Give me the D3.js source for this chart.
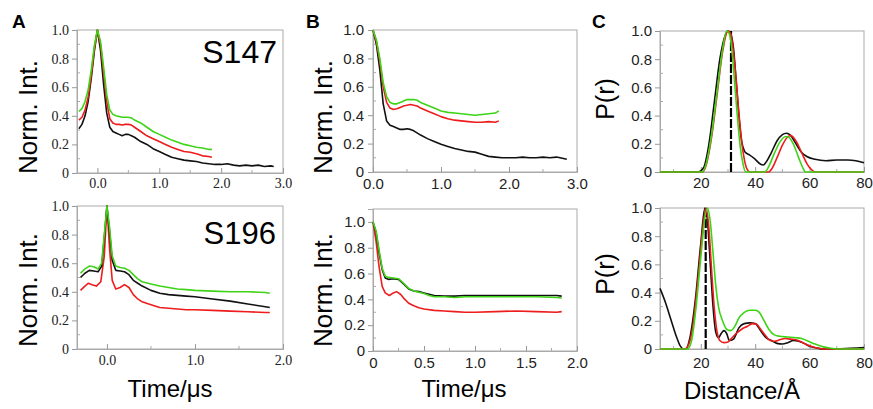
<!DOCTYPE html>
<html>
<head>
<meta charset="utf-8">
<script src="https://cdn.jsdelivr.net/npm/d3@7"></script>
<style>
  body { margin: 0; background: #fff; }
  svg { display: block; }
</style>
</head>
<body>
<svg id="chart" width="873" height="409"></svg>
<script>
/* A, top: S147 time traces */
const aTopBlack = [[-0.3,0.31],[-0.25,0.34],[-0.2,0.40],[-0.15,0.50],[-0.1,0.66],[-0.05,0.85],[0,1.0],[0.05,0.86],[0.1,0.62],[0.15,0.42],[0.2,0.32],[0.25,0.29],[0.3,0.28],[0.35,0.27],[0.4,0.26],[0.45,0.27],[0.5,0.27],[0.55,0.26],[0.6,0.25],[0.7,0.22],[0.8,0.2],[0.9,0.17],[1.0,0.15],[1.1,0.13],[1.2,0.11],[1.3,0.1],[1.4,0.09],[1.5,0.085],[1.6,0.08],[1.7,0.07],[1.8,0.065],[1.9,0.06],[2.0,0.06],[2.1,0.065],[2.2,0.055],[2.3,0.05],[2.4,0.055],[2.5,0.05],[2.6,0.055],[2.7,0.045],[2.8,0.05],[2.85,0.045]];
const aTopRed = [[-0.3,0.37],[-0.25,0.39],[-0.2,0.44],[-0.15,0.53],[-0.1,0.68],[-0.05,0.87],[0,1.0],[0.05,0.9],[0.1,0.7],[0.15,0.5],[0.2,0.38],[0.25,0.35],[0.3,0.34],[0.35,0.34],[0.4,0.335],[0.45,0.34],[0.5,0.34],[0.55,0.335],[0.6,0.32],[0.7,0.29],[0.8,0.26],[0.9,0.24],[1.0,0.22],[1.1,0.2],[1.2,0.18],[1.3,0.165],[1.4,0.15],[1.5,0.145],[1.6,0.135],[1.7,0.12],[1.8,0.115],[1.85,0.11]];
const aTopGreen = [[-0.3,0.43],[-0.25,0.45],[-0.2,0.5],[-0.15,0.58],[-0.1,0.72],[-0.05,0.89],[0,1.0],[0.05,0.92],[0.1,0.74],[0.15,0.55],[0.2,0.44],[0.25,0.41],[0.3,0.4],[0.35,0.395],[0.4,0.39],[0.45,0.39],[0.5,0.39],[0.55,0.385],[0.6,0.37],[0.7,0.35],[0.8,0.32],[0.9,0.29],[1.0,0.27],[1.1,0.25],[1.2,0.23],[1.3,0.215],[1.4,0.2],[1.5,0.19],[1.6,0.18],[1.7,0.175],[1.8,0.165],[1.85,0.165]];

/* A, bottom: S196 time traces */
const aBotGreen = [[-0.3,0.53],[-0.25,0.56],[-0.2,0.58],[-0.15,0.575],[-0.1,0.56],[-0.06,0.6],[-0.03,0.8],[0,1.0],[0.03,0.85],[0.06,0.65],[0.1,0.58],[0.15,0.57],[0.2,0.565],[0.25,0.55],[0.3,0.52],[0.35,0.49],[0.4,0.47],[0.5,0.455],[0.6,0.44],[0.7,0.43],[0.8,0.42],[0.9,0.415],[1.0,0.41],[1.2,0.405],[1.4,0.4],[1.6,0.4],[1.8,0.395],[1.85,0.39]];
const aBotBlack = [[-0.3,0.5],[-0.25,0.53],[-0.2,0.55],[-0.15,0.545],[-0.1,0.54],[-0.06,0.58],[-0.03,0.78],[0,1.0],[0.03,0.82],[0.06,0.62],[0.1,0.55],[0.15,0.545],[0.2,0.54],[0.25,0.52],[0.3,0.48],[0.35,0.46],[0.4,0.44],[0.5,0.41],[0.6,0.39],[0.7,0.38],[0.8,0.375],[0.9,0.37],[1.0,0.365],[1.2,0.35],[1.4,0.335],[1.6,0.315],[1.8,0.295],[1.85,0.29]];
const aBotRed = [[-0.3,0.41],[-0.25,0.44],[-0.21,0.46],[-0.17,0.45],[-0.12,0.44],[-0.07,0.47],[-0.03,0.65],[0,1.0],[0.03,0.7],[0.06,0.48],[0.1,0.42],[0.15,0.43],[0.2,0.45],[0.25,0.43],[0.3,0.38],[0.35,0.35],[0.4,0.33],[0.5,0.31],[0.6,0.29],[0.7,0.285],[0.8,0.28],[0.9,0.275],[1.0,0.275],[1.2,0.27],[1.4,0.265],[1.6,0.26],[1.8,0.255],[1.85,0.255]];

/* B, top */
const bTopGreen = [[0,1.0],[0.05,0.93],[0.1,0.8],[0.15,0.63],[0.2,0.53],[0.25,0.49],[0.3,0.48],[0.35,0.48],[0.4,0.49],[0.45,0.5],[0.5,0.51],[0.55,0.51],[0.6,0.51],[0.65,0.505],[0.7,0.49],[0.8,0.47],[0.9,0.45],[1.0,0.43],[1.1,0.42],[1.2,0.415],[1.3,0.41],[1.4,0.405],[1.5,0.4],[1.6,0.405],[1.7,0.41],[1.8,0.415],[1.85,0.43]];
const bTopRed = [[0,1.0],[0.05,0.92],[0.1,0.78],[0.15,0.6],[0.2,0.49],[0.25,0.45],[0.3,0.44],[0.35,0.445],[0.4,0.455],[0.45,0.465],[0.5,0.47],[0.55,0.475],[0.6,0.47],[0.65,0.465],[0.7,0.45],[0.8,0.43],[0.9,0.41],[1.0,0.39],[1.1,0.375],[1.2,0.365],[1.3,0.36],[1.4,0.355],[1.5,0.35],[1.6,0.35],[1.7,0.355],[1.8,0.35],[1.85,0.36]];
const bTopBlack = [[0,1.0],[0.05,0.9],[0.1,0.72],[0.15,0.48],[0.2,0.36],[0.25,0.33],[0.3,0.32],[0.35,0.31],[0.4,0.3],[0.45,0.3],[0.5,0.305],[0.55,0.3],[0.6,0.29],[0.7,0.26],[0.8,0.235],[0.9,0.215],[1.0,0.195],[1.1,0.18],[1.2,0.165],[1.3,0.155],[1.4,0.145],[1.5,0.14],[1.6,0.125],[1.7,0.11],[1.8,0.105],[1.9,0.1],[2.0,0.1],[2.1,0.1],[2.2,0.105],[2.3,0.1],[2.4,0.1],[2.5,0.105],[2.6,0.1],[2.7,0.105],[2.8,0.095],[2.85,0.09]];

/* B, bottom */
const bBotBlack = [[0,1.0],[0.03,0.92],[0.06,0.76],[0.09,0.63],[0.12,0.565],[0.15,0.555],[0.2,0.56],[0.25,0.555],[0.3,0.52],[0.35,0.48],[0.4,0.465],[0.45,0.46],[0.5,0.45],[0.55,0.44],[0.6,0.43],[0.7,0.425],[0.8,0.425],[0.9,0.43],[1.0,0.43],[1.2,0.43],[1.4,0.43],[1.6,0.43],[1.8,0.43],[1.85,0.425]];
const bBotGreen = [[0,1.0],[0.03,0.93],[0.06,0.78],[0.09,0.64],[0.12,0.58],[0.15,0.57],[0.2,0.565],[0.25,0.56],[0.3,0.525],[0.35,0.485],[0.4,0.465],[0.45,0.455],[0.5,0.445],[0.55,0.43],[0.6,0.42],[0.7,0.42],[0.8,0.415],[0.9,0.42],[1.0,0.42],[1.2,0.42],[1.4,0.42],[1.6,0.42],[1.8,0.415],[1.85,0.41]];
const bBotRed = [[0,1.0],[0.03,0.85],[0.06,0.65],[0.09,0.5],[0.12,0.45],[0.16,0.43],[0.2,0.45],[0.23,0.46],[0.27,0.44],[0.3,0.41],[0.35,0.37],[0.4,0.35],[0.45,0.335],[0.5,0.325],[0.6,0.315],[0.7,0.31],[0.8,0.305],[0.9,0.3],[1.0,0.3],[1.2,0.305],[1.4,0.31],[1.6,0.305],[1.8,0.3],[1.85,0.305]];

/* C, top: distance distributions */
const cTopBlack = [[5,0],[19,0],[21,0.03],[23,0.2],[25,0.5],[27,0.8],[29,0.97],[30,1.0],[31,0.98],[32,0.88],[33,0.65],[34,0.4],[35,0.22],[36,0.15],[37,0.13],[38,0.12],[40,0.09],[42,0.055],[43,0.05],[44,0.07],[46,0.14],[48,0.22],[50,0.265],[51.5,0.275],[53,0.26],[55,0.2],[57,0.14],[59,0.11],[62,0.09],[66,0.08],[70,0.085],[74,0.085],[77,0.08],[80,0.065]];
const cTopRed = [[5,0],[20.5,0],[22,0.05],[24,0.25],[26,0.55],[28,0.85],[30,1.0],[31,0.98],[32,0.85],[33,0.65],[34,0.42],[35,0.22],[36,0.09],[37,0.02],[38,0],[45,0],[46,0.02],[48,0.1],[50,0.19],[52,0.25],[53,0.26],[55,0.22],[57,0.14],[59,0.06],[60.5,0.02],[62,0],[80,0]];
const cTopGreen = [[5,0],[20.5,0],[22,0.06],[24,0.27],[26,0.57],[28,0.87],[29.5,1.0],[30.5,0.98],[31.5,0.85],[32.5,0.62],[33.5,0.38],[34.5,0.18],[35.5,0.06],[36.5,0],[43.5,0],[45,0.04],[47,0.13],[49,0.21],[51,0.25],[52,0.25],[54,0.2],[56,0.1],[57.5,0.03],[58.5,0],[80,0]];

/* C, bottom */
const cBotBlack = [[5,0.43],[7,0.33],[9,0.21],[11,0.09],[12.5,0.02],[13.5,0],[14.5,0],[16,0.08],[18,0.35],[20,0.75],[21.5,1.0],[22.5,0.9],[23.5,0.6],[24.5,0.3],[25.5,0.12],[26.5,0.08],[27.5,0.11],[28.5,0.13],[29.5,0.11],[30.5,0.06],[32,0.07],[34,0.15],[36,0.18],[38,0.185],[40,0.18],[42,0.13],[44,0.08],[46,0.06],[48,0.04],[50,0.035],[52,0.045],[54,0.06],[56,0.055],[58,0.04],[60,0.02],[63,0.005],[65,0],[70,0],[75,0.005],[80,0.01]];
const cBotRed = [[5,0],[14,0],[15.5,0.03],[17,0.15],[19,0.5],[21,0.9],[22,1.0],[23,0.85],[24,0.55],[25,0.28],[26,0.12],[27,0.06],[28.5,0.045],[30,0.05],[31,0.07],[33,0.11],[35,0.14],[37,0.16],[39,0.18],[40.5,0.175],[42,0.14],[44,0.09],[45.5,0.06],[47,0.055],[49,0.065],[51,0.075],[53,0.07],[55,0.065],[57,0.05],[59,0.03],[62,0.01],[65,0],[80,0]];
const cBotGreen = [[5,0],[15,0],[16.5,0.05],[18,0.25],[20,0.65],[21.5,0.93],[22.5,1.0],[23.5,0.9],[24.5,0.68],[25.5,0.45],[26.5,0.3],[28,0.2],[29.5,0.14],[31,0.13],[32.5,0.16],[34,0.22],[36,0.26],[38,0.275],[40,0.275],[41.5,0.26],[43,0.21],[45,0.14],[47,0.1],[49,0.09],[52,0.085],[55,0.08],[57,0.075],[59,0.06],[62,0.035],[65,0.015],[68,0.005],[70,0],[80,0]];

/* dashed marker positions in C */
const cTopMark = 31.1;
const cBotMark = 21.8;

/* tick values */
const yTicks = [0, 0.2, 0.4, 0.6, 0.8, 1.0];
const yMinor = [0.1, 0.3, 0.5, 0.7, 0.9];
const timeTicks3 = [0, 1, 2, 3];
const timeMinor3 = [0.5, 1.5, 2.5];
const timeTicks2 = [0, 1, 2];
const timeMinor2 = [0.5, 1.5];
const bBotTicks = [0, 0.5, 1, 1.5, 2];
const bBotMinor = [0.25, 0.75, 1.25, 1.75];
const distTicks = [20, 40, 60, 80];
const distMinor = [10, 30, 50, 70];

const BLACK = '#111', RED = '#ee1c1c', GREEN = '#3fd317';
const SERIF = '"Liberation Serif", "Times New Roman", serif';
const SANS = '"Liberation Sans", Arial, Helvetica, sans-serif';

const svg = d3.select('#chart');

function drawPanel(p) {
  const x = d3.scaleLinear().domain(p.xDomain).range([p.left, p.right]);
  const y = d3.scaleLinear().domain(p.yDomain).range([p.bottom, p.top]);
  const g = svg.append('g');

  // frame
  g.append('rect')
    .attr('x', p.left).attr('y', p.top)
    .attr('width', p.right - p.left).attr('height', p.bottom - p.top)
    .attr('fill', 'none').attr('stroke', '#aaa').attr('stroke-width', 1);

  // y axis: major ticks outward, minor inward
  const yAxis = d3.axisLeft(y).tickValues(yTicks).tickSize(5).tickPadding(p.yPad || 3)
    .tickFormat(d => d === 0 ? '0' : d3.format('.1f')(d));
  const ya = g.append('g').attr('transform', `translate(${p.left},0)`).call(yAxis);
  ya.select('.domain').attr('stroke', '#aaa');
  ya.selectAll('.tick line').attr('stroke', '#999');
  ya.selectAll('.tick text').attr('font-family', p.font).attr('font-size', p.fontSize).attr('fill', '#222');
  g.selectAll('.yminor').data(yMinor).enter().append('line')
    .attr('x1', p.left).attr('x2', p.left + 3)
    .attr('y1', d => y(d)).attr('y2', d => y(d))
    .attr('stroke', '#aaa');

  // x axis: ticks inward
  const xAxis = d3.axisBottom(x).tickValues(p.xTicks).tickSize(-5).tickPadding(p.xPad)
    .tickFormat(p.xFormat);
  const xa = g.append('g').attr('transform', `translate(0,${p.bottom})`).call(xAxis);
  xa.select('.domain').attr('stroke', '#aaa');
  xa.selectAll('.tick line').attr('stroke', '#999');
  xa.selectAll('.tick text').attr('font-family', p.font).attr('font-size', p.fontSize).attr('fill', '#222');
  g.selectAll('.xminor').data(p.xMinor).enter().append('line')
    .attr('x1', d => x(d)).attr('x2', d => x(d))
    .attr('y1', p.bottom).attr('y2', p.bottom - 3)
    .attr('stroke', '#aaa');

  const line = d3.line()
    .x(d => x(d[0])).y(d => y(d[1]))
    .curve(p.smooth ? d3.curveMonotoneX : d3.curveLinear);

  if (p.mark !== undefined) {
    g.append('line')
      .attr('x1', x(p.mark)).attr('x2', x(p.mark))
      .attr('y1', y(0)).attr('y2', y(1))
      .attr('stroke', '#000').attr('stroke-width', 2.2)
      .attr('stroke-dasharray', '9,2');
  }

  p.series.forEach(s => {
    g.append('path')
      .datum(s.values)
      .attr('fill', 'none')
      .attr('stroke', s.color)
      .attr('stroke-width', 1.6)
      .attr('stroke-linejoin', 'round')
      .attr('d', line);
  });
}

const fmt1 = d => d3.format('.1f')(d);

drawPanel({
  left: 77, right: 283, top: 30, bottom: 173,
  xDomain: [-0.33, 3], yDomain: [0, 1],
  xTicks: timeTicks3, xMinor: timeMinor3, xFormat: fmt1, xPad: 5,
  font: SERIF, fontSize: 14,
  series: [{ values: aTopBlack, color: BLACK }, { values: aTopRed, color: RED }, { values: aTopGreen, color: GREEN }]
});
drawPanel({
  left: 77, right: 283, top: 206, bottom: 349,
  xDomain: [-0.34, 2], yDomain: [0, 1],
  xTicks: timeTicks2, xMinor: timeMinor2, xFormat: fmt1, xPad: 6,
  font: SERIF, fontSize: 14,
  series: [{ values: aBotRed, color: RED }, { values: aBotBlack, color: BLACK }, { values: aBotGreen, color: GREEN }]
});
drawPanel({
  left: 373, right: 577, top: 30, bottom: 172,
  xDomain: [0, 3], yDomain: [0, 1],
  xTicks: timeTicks3, xMinor: timeMinor3, xFormat: fmt1, xPad: 6, yPad: 4,
  font: SANS, fontSize: 15,
  series: [{ values: bTopBlack, color: BLACK }, { values: bTopRed, color: RED }, { values: bTopGreen, color: GREEN }]
});
drawPanel({
  left: 373, right: 577, top: 209, bottom: 351,
  xDomain: [0, 2], yDomain: [0, 1.1],
  xTicks: bBotTicks, xMinor: bBotMinor, xFormat: d => d === 0 ? '0' : fmt1(d), xPad: 6,
  font: SANS, fontSize: 15,
  series: [{ values: bBotRed, color: RED }, { values: bBotBlack, color: BLACK }, { values: bBotGreen, color: GREEN }]
});
drawPanel({
  left: 660, right: 864, top: 31, bottom: 172,
  xDomain: [5, 80], yDomain: [0, 1],
  xTicks: distTicks, xMinor: distMinor, xFormat: d => d, xPad: 5,
  font: SANS, fontSize: 15, smooth: true, mark: cTopMark,
  series: [{ values: cTopBlack, color: BLACK }, { values: cTopRed, color: RED }, { values: cTopGreen, color: GREEN }]
});
drawPanel({
  left: 660, right: 864, top: 208, bottom: 349,
  xDomain: [5, 80], yDomain: [0, 1],
  xTicks: distTicks, xMinor: distMinor, xFormat: d => d, xPad: 8,
  font: SANS, fontSize: 15, smooth: true, mark: cBotMark,
  series: [{ values: cBotBlack, color: BLACK }, { values: cBotRed, color: RED }, { values: cBotGreen, color: GREEN }]
});

// panel letters
[['A', 12, 28], ['B', 306, 28], ['C', 592, 28]].forEach(l => {
  svg.append('text').attr('x', l[1]).attr('y', l[2]).text(l[0])
    .attr('font-family', SANS).attr('font-weight', 'bold').attr('font-size', 19);
});

// y titles
function yTitle(txt, x, cy, size) {
  svg.append('text')
    .attr('transform', `translate(${x},${cy}) rotate(-90)`)
    .attr('text-anchor', 'middle')
    .attr('font-family', SANS).attr('font-size', size)
    .text(txt);
}
yTitle('Norm. Int.', 37, 117, 26);
yTitle('Norm. Int.', 37, 290, 26);
yTitle('Norm. Int.', 332, 117, 26);
yTitle('Norm. Int.', 332, 290, 26);
yTitle('P(r)', 614, 99, 25);
yTitle('P(r)', 614, 274, 25);

// x titles
function xTitle(txt, cx, y) {
  svg.append('text').attr('x', cx).attr('y', y)
    .attr('text-anchor', 'middle')
    .attr('font-family', SANS).attr('font-size', 24)
    .text(txt);
}
xTitle('Time/\u03bcs', 170, 397);
xTitle('Time/\u03bcs', 464, 397);
xTitle('Distance/\u00c5', 742, 399);

// sample names
svg.append('text').attr('x', 277).attr('y', 63).attr('text-anchor', 'end')
  .attr('font-family', SANS).attr('font-size', 32).text('S147');
svg.append('text').attr('x', 276).attr('y', 244).attr('text-anchor', 'end')
  .attr('font-family', SANS).attr('font-size', 31).text('S196');
</script>
</body>
</html>
